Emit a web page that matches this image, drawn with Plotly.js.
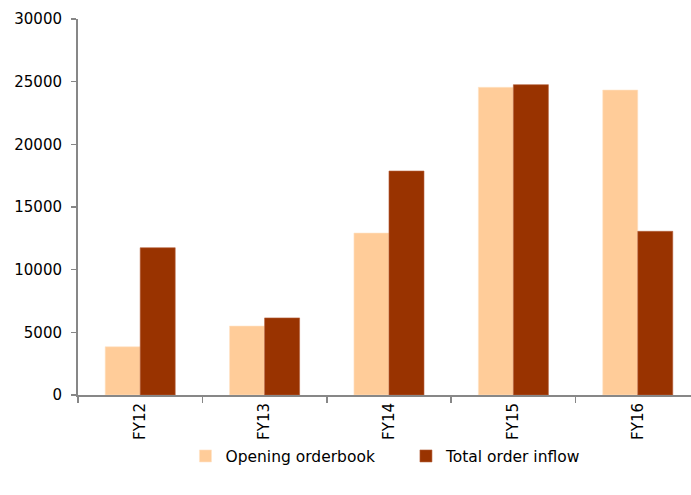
<!DOCTYPE html>
<html>
<head>
<meta charset="utf-8">
<script src="https://cdn.plot.ly/plotly-3.0.1.min.js"></script>
<style>
  html, body { margin: 0; padding: 0; background: #ffffff; overflow: hidden; }
  #chart { width: 691px; height: 495px; }
</style>
</head>
<body>
<div id="chart"></div>
<script>
// Order book by fiscal year
const years = ["FY12", "FY13", "FY14", "FY15", "FY16"];
const openingOrderbook = [3850, 5500, 12920, 24550, 24330];
const totalOrderInflow = [11750, 6150, 17870, 24760, 13060];

const yTicks = [0, 5000, 10000, 15000, 20000, 25000, 30000];

const font = { family: "DejaVu Sans, Verdana, sans-serif", size: 15, color: "#000000" };
const legendFont = { family: "DejaVu Sans, Verdana, sans-serif", size: 15.5, color: "#000000" };

const traces = [
  {
    type: "bar",
    name: "Opening orderbook",
    x: years,
    y: openingOrderbook,
    marker: { color: "#FFCC99", line: { color: "#FFE2C6", width: 0.6 } },
    hoverinfo: "x+y+name"
  },
  {
    type: "bar",
    name: "Total order inflow",
    x: years,
    y: totalOrderInflow,
    marker: { color: "#993300", line: { color: "#B5603A", width: 0.6 } },
    hoverinfo: "x+y+name"
  }
];

const layout = {
  width: 691,
  height: 495,
  margin: { l: 78, r: 0, t: 19, b: 100 },
  paper_bgcolor: "#ffffff",
  plot_bgcolor: "#ffffff",
  font: font,
  barmode: "group",
  bargap: 0.437,
  bargroupgap: 0,
  showlegend: true,
  legend: {
    orientation: "h",
    x: 0.535,
    xref: "paper",
    xanchor: "center",
    y: -0.118,
    yanchor: "top",
    font: legendFont,
    itemwidth: 30,
    entrywidth: 175.5,
    tracegroupgap: 0
  },
  xaxis: {
    type: "category",
    range: [-0.5, 4.428],
    showline: true,
    linecolor: "#878787",
    linewidth: 2,
    ticks: "outside",
    tickson: "boundaries",
    ticklen: 6,
    tickwidth: 1.5,
    tickcolor: "#878787",
    tickangle: -90,
    tickfont: font,
    showgrid: false,
    zeroline: false,
    fixedrange: true
  },
  yaxis: {
    range: [0, 30000],
    tickvals: yTicks,
    ticktext: yTicks.map(String),
    showline: true,
    linecolor: "#878787",
    linewidth: 2,
    ticks: "outside",
    ticklen: 5,
    tickwidth: 1.5,
    tickcolor: "#878787",
    tickfont: font,
    ticklabelstandoff: 6,
    showgrid: false,
    zeroline: false,
    fixedrange: true
  }
};

Plotly.newPlot("chart", traces, layout, { displayModeBar: false, staticPlot: true });
</script>
</body>
</html>
